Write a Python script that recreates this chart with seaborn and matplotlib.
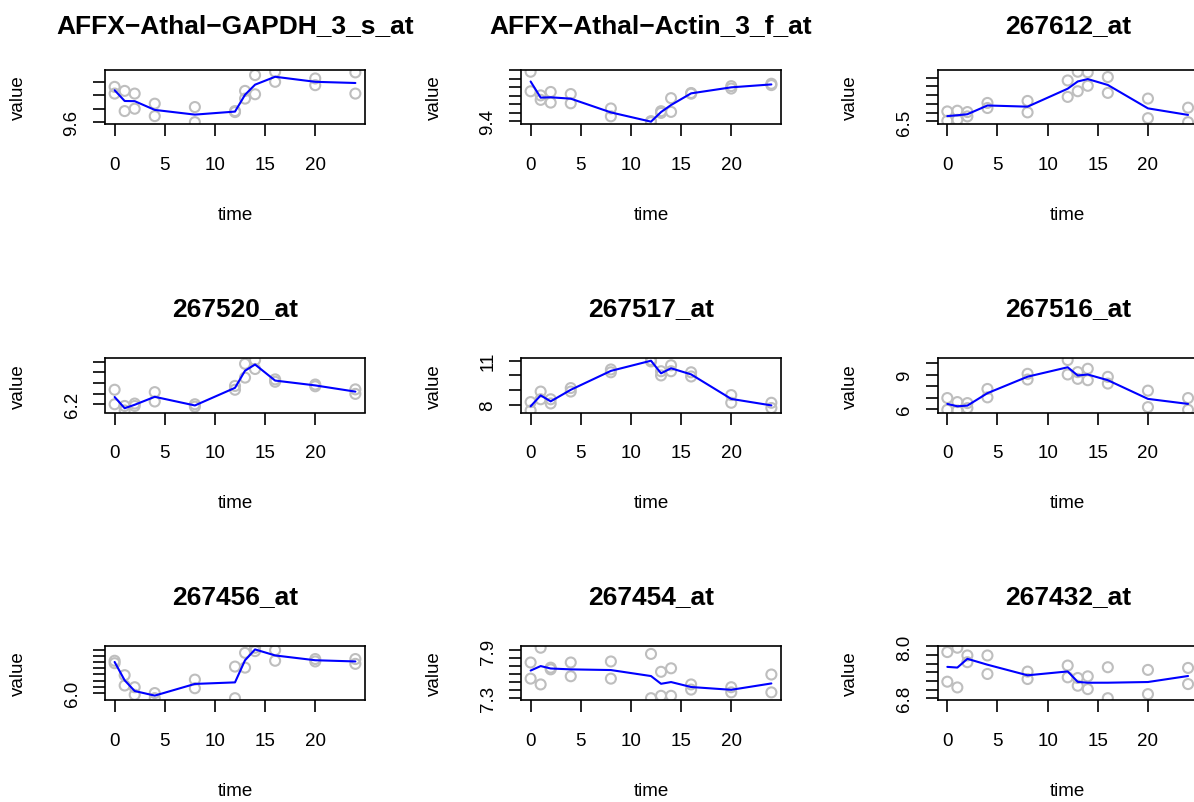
import matplotlib
matplotlib.use("Agg")
import matplotlib.pyplot as plt
import seaborn as sns
import pandas as pd

# time course (hours), two replicates per time point
times = [0, 1, 2, 4, 8, 12, 13, 14, 16, 20, 24]

probes = ["AFFX\u2212Athal\u2212GAPDH_3_s_at", "AFFX\u2212Athal\u2212Actin_3_f_at", "267612_at",
          "267520_at", "267517_at", "267516_at",
          "267456_at", "267454_at", "267432_at"]

gapdh_a = [10.125, 10.065, 10.025, 9.875, 9.825, 9.765, 10.065, 10.30, 10.35, 10.25, 10.34]
gapdh_b = [10.025, 9.765, 9.80, 9.69, 9.60, 9.75, 9.95, 10.015, 10.20, 10.15, 10.025]

actin_a = [9.98, 9.704, 9.744, 9.72, 9.552, 9.404, 9.52, 9.672, 9.732, 9.812, 9.84]
actin_b = [9.752, 9.652, 9.62, 9.612, 9.46, 9.392, 9.50, 9.512, 9.724, 9.784, 9.824]

p267612_a = [6.615, 6.623, 6.608, 6.712, 6.735, 6.969, 7.069, 7.062, 7.008, 6.762, 6.658]
p267612_b = [6.508, 6.519, 6.558, 6.654, 6.604, 6.781, 6.846, 6.908, 6.827, 6.538, 6.492]

p267520_a = [6.473, 6.168, 6.213, 6.428, 6.20, 6.545, 6.961, 7.032, 6.668, 6.571, 6.48]
p267520_b = [6.20, 6.083, 6.168, 6.252, 6.155, 6.473, 6.701, 6.863, 6.623, 6.538, 6.395]

p267517_a = [8.168, 8.887, 8.36, 9.127, 10.398, 11.046, 10.278, 10.686, 10.206, 8.647, 8.12]
p267517_b = [7.592, 8.36, 8.072, 8.887, 10.206, 10.95, 9.99, 10.278, 9.918, 8.12, 7.76]

p267516_a = [6.962, 6.612, 6.525, 7.749, 9.061, 10.257, 9.207, 9.499, 8.799, 7.603, 6.962]
p267516_b = [5.942, 5.883, 6.087, 7.02, 8.566, 9.003, 8.624, 8.507, 8.216, 6.175, 5.942]

p267456_a = [6.522, 6.289, 6.094, 6.0, 6.217, 6.428, 6.65, 6.733, 6.694, 6.55, 6.55]
p267456_b = [6.483, 6.122, 5.972, 5.917, 6.078, 5.917, 6.411, 6.678, 6.522, 6.511, 6.472]

p267454_a = [7.749, 7.935, 7.684, 7.749, 7.762, 7.857, 7.632, 7.676, 7.473, 7.438, 7.598]
p267454_b = [7.546, 7.473, 7.663, 7.576, 7.546, 7.30, 7.33, 7.33, 7.408, 7.373, 7.373]

p267432_a = [7.868, 7.969, 7.79, 7.79, 7.416, 7.556, 7.268, 7.306, 7.517, 7.455, 7.501]
p267432_b = [7.182, 7.049, 7.634, 7.361, 7.244, 7.283, 7.088, 7.01, 6.80, 6.894, 7.127]

# y ticks per panel and the labels that are printed (the rest overlap)
yticks = [[9.6, 9.8, 10.0, 10.2], [9.4, 9.5, 9.6, 9.7, 9.8, 9.9, 10.0],
          [6.5, 6.6, 6.7, 6.8, 6.9, 7.0], [6.2, 6.4, 6.6, 6.8, 7.0],
          [8, 9, 10, 11], [6, 7, 8, 9, 10],
          [6.0, 6.1, 6.2, 6.3, 6.4, 6.5, 6.6, 6.7], [7.3, 7.4, 7.5, 7.6, 7.7, 7.8, 7.9],
          [6.8, 7.0, 7.2, 7.4, 7.6, 7.8, 8.0]]
ylabels_shown = [{9.6: "9.6"}, {9.4: "9.4"}, {6.5: "6.5"}, {6.2: "6.2"},
                 {8: "8", 11: "11"}, {6: "6", 9: "9"}, {6.0: "6.0"},
                 {7.3: "7.3", 7.9: "7.9"}, {6.8: "6.8", 8.0: "8.0"}]

series = [(gapdh_a, gapdh_b), (actin_a, actin_b), (p267612_a, p267612_b),
          (p267520_a, p267520_b), (p267517_a, p267517_b), (p267516_a, p267516_b),
          (p267456_a, p267456_b), (p267454_a, p267454_b), (p267432_a, p267432_b)]

sns.set_style("ticks")
plt.rcParams["font.family"] = ["Liberation Sans", "DejaVu Sans"]
plt.rcParams.update({"text.color": "black", "axes.labelcolor": "black",
                     "xtick.color": "black", "ytick.color": "black",
                     "axes.edgecolor": "black"})

W, H = 1194, 803
fig = plt.figure(figsize=(W / 100, H / 100), dpi=100, facecolor="white")

col_left = [105, 521, 937.7]
row_top = [70.7, 359, 646.7]
title_gap = [45, 50, 50]
box_w, box_h = 260, 54.5

for i, name in enumerate(probes):
    r, c = divmod(i, 3)
    ax = fig.add_axes([col_left[c] / W, 1 - (row_top[r] + box_h) / H, box_w / W, box_h / H])
    a, b = series[i]
    df = pd.DataFrame({"time": times + times, "value": a + b})

    sns.scatterplot(data=df, x="time", y="value", ax=ax, s=52, color="#BEBEBE",
                    linewidth=1.5, legend=False, zorder=2)
    pts = ax.collections[-1]
    pts.set_facecolor("none")
    pts.set_edgecolor("#BEBEBE")
    sns.lineplot(data=df, x="time", y="value", estimator="mean", errorbar=None,
                 color="blue", lw=1.5, ax=ax, zorder=3)

    lo, hi = min(a + b), max(a + b)
    pad = 0.04 * (hi - lo)
    ax.set_ylim(lo - pad, hi + pad)
    ax.set_xlim(min(times) - 0.04 * 24, max(times) + 0.04 * 24)

    ax.set_xticks([0, 5, 10, 15, 20])
    ax.set_xticklabels(["0", "5", "10", "15", "20"])
    ax.set_yticks(yticks[i])
    ax.set_yticklabels([ylabels_shown[i].get(t, "") for t in yticks[i]],
                       rotation=90, va="center")

    ax.tick_params(axis="both", length=8.6, width=1.2, labelsize=13.5, color="black",
                   labelcolor="black")
    ax.tick_params(axis="x", pad=14)
    ax.tick_params(axis="y", pad=9)
    for sp in ax.spines.values():
        sp.set_visible(True)
        sp.set_linewidth(1.2)
        sp.set_color("black")

    ax.set_xlabel("time", fontsize=13.5, color="black")
    ax.set_ylabel("value", fontsize=13.5, color="black")
    ax.xaxis.set_label_coords(0.5, -90 / box_h)
    ax.xaxis.label.set_va("center")
    ax.yaxis.set_label_coords(-87 / box_w, 0.5)
    ax.yaxis.label.set_va("center")
    ax.yaxis.label.set_ha("center")

    ax.set_title(name, fontsize=19, fontweight="bold", color="black",
                 y=1 + title_gap[r] / box_h, va="center", pad=0)

fig.savefig("out.png", dpi=100, facecolor="white")
